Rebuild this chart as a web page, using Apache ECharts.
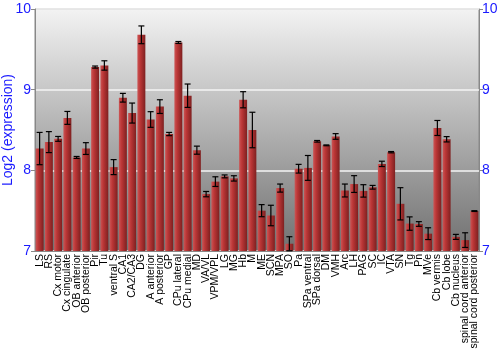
<!DOCTYPE html>
<html>
<head>
<meta charset="utf-8">
<script src="https://cdn.jsdelivr.net/npm/echarts@6/dist/echarts.min.js"></script>
<style>html,body{margin:0;padding:0;background:#fff}#c{width:500px;height:350px}</style>
</head>
<body>
<div id="c"></div>
<script>
const categories = ["LS","RS","Cx motor","Cx cingulate","OB anterior","OB posterior","Pir","Tu","ventral S","CA1","CA2/CA3","DG","A anterior","A posterior","GP","CPu lateral","CPu medial","MD","VA/VL","VPM/VPL","LG","MG","Hb","M","ME","SCN","MPA","SO","Pa","SPa ventral","SPa dorsal","DM","VMH","Arc","LH","PAG","SC","IC","VTA","SN","Tg","Pn","MVe","Cb vermis","Cb lobe","Cb nucleus","spinal cord anterior","spinal cord posterior"];
const means = [8.27,8.35,8.39,8.65,8.16,8.27,9.28,9.30,8.04,8.90,8.71,9.68,8.63,8.79,8.45,9.585,8.925,8.25,7.705,7.86,7.925,7.90,8.875,8.50,7.50,7.44,7.78,7.09,8.02,8.03,8.36,8.31,8.42,7.75,7.83,7.745,7.79,8.08,8.225,7.585,7.34,7.335,7.215,8.525,8.385,7.175,7.135,7.495];
const errors = [0.20,0.13,0.03,0.08,0.012,0.073,0.013,0.058,0.093,0.054,0.124,0.11,0.097,0.085,0.02,0.012,0.145,0.05,0.033,0.06,0.018,0.033,0.10,0.22,0.075,0.127,0.05,0.087,0.054,0.154,0.01,0.005,0.035,0.08,0.104,0.077,0.023,0.033,0.008,0.20,0.083,0.029,0.073,0.093,0.033,0.031,0.091,0.005];
const yTicks = [7, 8, 9, 10];

const errData = means.map((m, i) => [i, m - errors[i], m + errors[i]]);
const font = 'Liberation Sans, Arial, sans-serif';
const chart = echarts.init(document.getElementById('c'), null, {renderer: 'canvas'});
chart.setOption({
  animation: false,
  grid: {
    left: 35, right: 21, top: 9, bottom: 99,
    outerBoundsMode: 'none',
    containLabel: false,
    show: true,
    borderColor: '#888', borderWidth: 1,
    backgroundColor: new echarts.graphic.LinearGradient(0, 0, 0, 1, [
      {offset: 0, color: '#f3f3f3'},
      {offset: 1, color: '#707070'}
    ])
  },
  xAxis: {
    type: 'category',
    data: categories,
    axisLine: {show: true, lineStyle: {color: '#888'}},
    axisTick: {show: false},
    axisLabel: {rotate: 90, interval: 0, fontSize: 10.5, color: '#000', fontFamily: font, margin: 3}
  },
  yAxis: [{
    type: 'value', min: yTicks[0], max: yTicks[yTicks.length - 1], interval: 1,
    position: 'left',
    name: 'Log2 (expression)', nameLocation: 'middle', nameGap: 20, nameRotate: 90,
    nameMoveOverlap: false,
    nameTextStyle: {color: '#1a1aff', fontSize: 14, fontFamily: font},
    axisLine: {show: true, lineStyle: {color: '#888'}},
    axisTick: {show: true, length: 4, lineStyle: {color: '#888'}},
    axisLabel: {color: '#1a1aff', fontSize: 14, fontFamily: font, margin: 4},
    splitLine: {show: true, lineStyle: {color: '#f4f4f4', width: 1.5}}
  }, {
    type: 'value', min: yTicks[0], max: yTicks[yTicks.length - 1], interval: 1,
    position: 'right',
    axisLine: {show: true, lineStyle: {color: '#888'}},
    axisTick: {show: true, length: 4, lineStyle: {color: '#888'}},
    axisLabel: {color: '#1a1aff', fontSize: 14, fontFamily: font, margin: 3},
    splitLine: {show: false}
  }],
  series: [{
    type: 'bar',
    data: means,
    barWidth: '86%',
    itemStyle: {
      color: new echarts.graphic.LinearGradient(0, 0, 1, 0, [
        {offset: 0, color: '#cc5555'},
        {offset: 0.35, color: '#bb3636'},
        {offset: 1, color: '#7e2020'}
      ])
    }
  }, {
    type: 'custom',
    data: errData,
    z: 5,
    renderItem: function (params, api) {
      const x = api.value(0);
      const lo = api.coord([x, api.value(1)]);
      const hi = api.coord([x, api.value(2)]);
      const hw = 3;
      const st = {stroke: '#000', lineWidth: 1.2};
      return {type: 'group', children: [
        {type: 'line', shape: {x1: lo[0], y1: lo[1], x2: hi[0], y2: hi[1]}, style: st},
        {type: 'line', shape: {x1: lo[0] - hw, y1: lo[1], x2: lo[0] + hw, y2: lo[1]}, style: st},
        {type: 'line', shape: {x1: hi[0] - hw, y1: hi[1], x2: hi[0] + hw, y2: hi[1]}, style: st}
      ]};
    }
  }]
});
</script>
</body>
</html>
